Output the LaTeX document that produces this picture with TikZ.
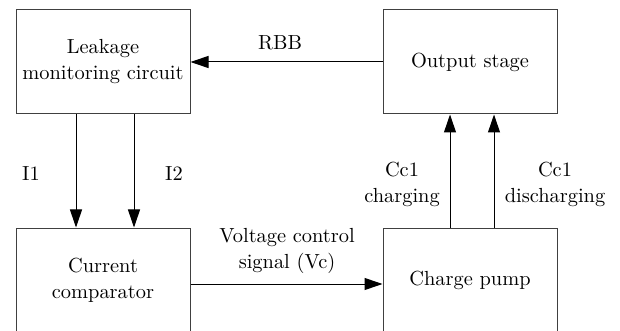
\documentclass[tikz,border=0pt]{standalone}
\usetikzlibrary{arrows.meta}
\definecolor{boxgray}{HTML}{404040}

\begin{document}
\begin{tikzpicture}[
    x=0.5pt, y=-0.5pt,
    >={Triangle[length=9pt, width=6pt]},
    line width=0.5pt,
    font=\fontsize{10.2}{13}\selectfont,
    block/.style={draw=boxgray, rectangle, minimum width=87pt, minimum height=52pt,
        inner sep=0pt, align=center},
    sig/.style={->, black},
    lbl/.style={inner sep=0pt, align=center}
]

    % Frame (bottom blocks run past the lower edge)
    \useasboundingbox (0,0) rectangle (620,331);
    \clip (0,0) rectangle (620,331);

    % Blocks
    \node[block] (leak) at (103,62) {Leakage\\monitoring circuit};
    \node[block] (outst) at (470,62) {Output stage};
    \node[block] (comp) at (103,280) {Current\\comparator};
    \node[block] (pump) at (470,280) {Charge pump};

    % Connectors
    \draw[sig] (outst.west) -- (leak.east);
    \draw[sig] ([xshift=-13.5pt]leak.south) -- ([xshift=-13.5pt]comp.north);
    \draw[sig] ([xshift=15.5pt]leak.south) -- ([xshift=15.5pt]comp.north);
    \draw[sig] ([yshift=-2pt]comp.east) -- ([yshift=-2pt]pump.west);
    \draw[sig] ([xshift=-10pt]pump.north) -- ([xshift=-10pt]outst.south);
    \draw[sig] ([xshift=12pt]pump.north) -- ([xshift=12pt]outst.south);

    % Labels
    \node[lbl, anchor=base] (rbb) at (280,50) {RBB};
    \node[lbl, anchor=base] (ione) at (31,181) {I1};
    \node[lbl, anchor=base] (itwo) at (174,181) {I2};
    \node[lbl] (vc) at (287,251) {Voltage control\\signal (Vc)};
    \node[lbl] (chg) at (402,184) {Cc1\\charging};
    \node[lbl] (dis) at (555,184) {Cc1\\discharging};

\end{tikzpicture}
\end{document}
